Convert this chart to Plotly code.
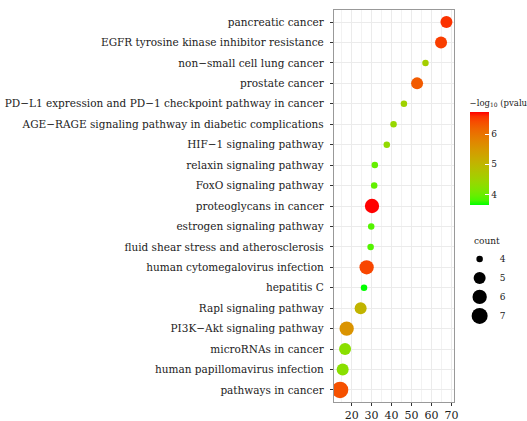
import plotly.graph_objects as go

# ---------------- data ----------------
pathways = [
    "pancreatic cancer",
    "EGFR tyrosine kinase inhibitor resistance",
    "non−small cell lung cancer",
    "prostate cancer",
    "PD−L1 expression and PD−1 checkpoint pathway in cancer",
    "AGE−RAGE signaling pathway in diabetic complications",
    "HIF−1 signaling pathway",
    "relaxin signaling pathway",
    "FoxO signaling pathway",
    "proteoglycans in cancer",
    "estrogen signaling pathway",
    "fluid shear stress and atherosclerosis",
    "human cytomegalovirus infection",
    "hepatitis C",
    "Rapl signaling pathway",
    "PI3K−Akt signaling pathway",
    "microRNAs in cancer",
    "human papillomavirus infection",
    "pathways in cancer",
]
x_values = [67.5, 64.8, 57.0, 52.8, 46.2, 41.0, 37.6, 31.6, 31.3, 30.2,
            29.8, 29.5, 27.5, 26.2, 24.5, 17.5, 16.7, 15.5, 14.2]
neg_log10_p = [6.58, 6.5, 4.57, 6.27, 4.5, 4.4, 4.35, 3.95, 3.93, 6.73,
               3.85, 3.85, 6.45, 3.64, 5.03, 5.56, 4.26, 4.25, 6.36]
counts = [5, 5, 4, 5, 4, 4, 4, 4, 4, 6, 4, 4, 6, 4, 5, 6, 5, 5, 7]
x_ticks = [20, 30, 40, 50, 60, 70]
count_levels = [4, 5, 6, 7]
colorbar_ticks = [4, 5, 6]

# ---------------- styling helpers ----------------
SIZE_PX = {4: 6.5, 5: 12, 6: 14.3, 7: 16.5}


def srgb_to_lab(rgb):
    def lin(c):
        c = c / 255
        return c / 12.92 if c <= 0.04045 else ((c + 0.055) / 1.055) ** 2.4
    r, g, b = (lin(c) for c in rgb)
    X = 0.4124 * r + 0.3576 * g + 0.1805 * b
    Y = 0.2126 * r + 0.7152 * g + 0.0722 * b
    Z = 0.0193 * r + 0.1192 * g + 0.9505 * b
    X /= 0.95047; Z /= 1.08883

    def f(t):
        return t ** (1 / 3) if t > 0.008856 else 7.787 * t + 16 / 116
    fx, fy, fz = f(X), f(Y), f(Z)
    return (116 * fy - 16, 500 * (fx - fy), 200 * (fy - fz))


def lab_to_srgb(lab):
    L, a, b = lab
    fy = (L + 16) / 116
    fx = fy + a / 500
    fz = fy - b / 200

    def finv(t):
        return t ** 3 if t ** 3 > 0.008856 else (t - 16 / 116) / 7.787
    X = 0.95047 * finv(fx); Y = finv(fy); Z = 1.08883 * finv(fz)
    r = 3.2406 * X - 1.5372 * Y - 0.4986 * Z
    g = -0.9689 * X + 1.8758 * Y + 0.0415 * Z
    bb = 0.0557 * X - 0.2040 * Y + 1.0570 * Z

    def gam(c):
        c = min(max(c, 0), 1)
        return 12.92 * c if c <= 0.0031308 else 1.055 * c ** (1 / 2.4) - 0.055
    return tuple(int(round(255 * gam(c))) for c in (r, g, bb))


low, high = srgb_to_lab((0, 255, 0)), srgb_to_lab((255, 0, 0))
colorscale = []
for i in range(21):
    t = i / 20
    lab = tuple(low[k] + (high[k] - low[k]) * t for k in range(3))
    colorscale.append([t, "rgb(%d,%d,%d)" % lab_to_srgb(lab)])

FONT = "DejaVu Serif"

fig = go.Figure()
fig.add_trace(go.Scatter(
    x=x_values, y=pathways, mode="markers",
    marker=dict(
        size=[SIZE_PX[c] for c in counts],
        color=neg_log10_p, colorscale=colorscale,
        line=dict(width=0), opacity=1,
        colorbar=dict(
            title=dict(text="−log<sub>10</sub> (pvalue)", side="top",
                       font=dict(family=FONT, size=8.5, color="#222")),
            thickness=19, len=109, lenmode="pixels",
            x=1.13, xanchor="left", y=0.641, yanchor="middle",
            xpad=0, ypad=0, outlinewidth=0,
            tickvals=colorbar_ticks, ticks="inside", ticklen=4,
            tickcolor="white", tickwidth=1,
            tickfont=dict(family=FONT, size=9, color="#222"),
        ),
    ),
    showlegend=False, hoverinfo="x+y",
))

for c in count_levels:
    fig.add_trace(go.Scatter(
        x=[None], y=[None], mode="markers", name=str(c),
        marker=dict(size=SIZE_PX[c], color="black", line=dict(width=0)),
        showlegend=True,
    ))

fig.update_layout(
    width=527, height=421,
    margin=dict(l=334, r=73, t=10, b=19, pad=0, autoexpand=False),
    paper_bgcolor="white", plot_bgcolor="white",
    font=dict(family=FONT, size=10, color="#222"),
    legend=dict(
        x=1.047, xanchor="left", y=0.402, yanchor="top",
        font=dict(family=FONT, size=9),
        itemsizing="trace", tracegroupgap=0, bgcolor="rgba(0,0,0,0)",
        itemwidth=30,
    ),
    annotations=[dict(
        text="count", xref="paper", yref="paper", x=1.152, y=0.393,
        xanchor="left", yanchor="bottom", showarrow=False,
        font=dict(family=FONT, size=9, color="#222"),
    )],
    xaxis=dict(
        range=[11.15, 71.3], tickvals=x_ticks, ticks="outside", ticklen=3,
        tickcolor="#333", showgrid=True, gridcolor="#EBEBEB", gridwidth=1,
        minor=dict(dtick=5, tick0=0, showgrid=True, gridcolor="#F2F2F2", gridwidth=0.6, ticks=""),
        showline=True, linecolor="#999", linewidth=1.3, mirror=True,
        zeroline=False, automargin=False,
        tickfont=dict(family=FONT, size=11, color="#222"),
    ),
    yaxis=dict(
        categoryorder="array", categoryarray=pathways,
        range=[len(pathways) - 1 + 0.59, -0.59],
        ticks="outside", ticklen=3, tickcolor="#333", ticklabelstandoff=4,
        showgrid=True, gridcolor="#EBEBEB", gridwidth=1,
        showline=True, linecolor="#999", linewidth=1.3, mirror=True,
        zeroline=False, automargin=False,
        tickfont=dict(family=FONT, size=10.5, color="#222"),
    ),
)

fig.write_html(
    "out.html",
    config={"displayModeBar": False},
    post_script="document.body.style.margin='0';document.body.style.overflow='hidden';",
)
